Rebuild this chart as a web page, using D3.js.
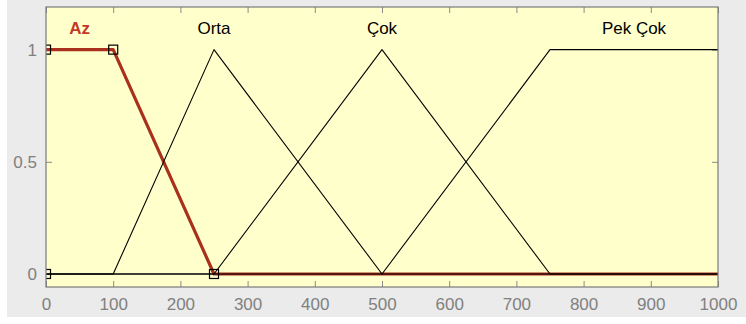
<!DOCTYPE html>
<html>
<head>
<meta charset="utf-8">
<script src="https://cdn.jsdelivr.net/npm/d3@7"></script>
<style>
  html, body { margin: 0; padding: 0; background: #ffffff; }
  svg { display: block; }
</style>
</head>
<body>
<div id="chart"></div>
<script>
// membership functions on the input range 0..1000
const mfNames = ['Az', 'Orta', 'Çok', 'Pek Çok'];
const mfX = [
  [0, 100, 250, 1000],
  [0, 100, 250, 500, 1000],
  [0, 250, 500, 750, 1000],
  [0, 500, 750, 1000]
];
const mfY = [
  [1, 1, 0, 0],
  [0, 0, 1, 0, 0],
  [0, 0, 1, 0, 0],
  [0, 0, 1, 1]
];
// where each name is written (x of the peak / plateau centre)
const labelX = [50, 250, 500, 875];
const labelY = 1.1;
const selected = 0; // "Az" is highlighted
// vertex markers of the selected MF
const markerX = [0, 0, 100, 250];
const markerY = [0, 1, 1, 0];

const xTicks = [0, 100, 200, 300, 400, 500, 600, 700, 800, 900, 1000];
const yTicks = [0, 0.5, 1];

const width = 746, height = 324;
const plot = { left: 46, right: 718, top: 7, bottom: 287 };

const svg = d3.select('#chart').append('svg')
  .attr('width', width)
  .attr('height', height);

// figure background
svg.append('rect')
  .attr('x', 7).attr('y', 0)
  .attr('width', width - 7).attr('height', 317)
  .attr('fill', '#ebebeb');

const x = d3.scaleLinear().domain([0, 1000]).range([plot.left, plot.right]);
const y = d3.scaleLinear().domain([-0.058, 1.19]).range([plot.bottom, plot.top]);

svg.append('defs').append('clipPath').attr('id', 'clip')
  .append('rect')
  .attr('x', plot.left).attr('y', plot.top)
  .attr('width', plot.right - plot.left).attr('height', plot.bottom - plot.top);

svg.append('rect')
  .attr('x', plot.left).attr('y', plot.top)
  .attr('width', plot.right - plot.left).attr('height', plot.bottom - plot.top)
  .attr('fill', '#ffffcc');

// axes: ticks point inward, labels in gray
const tickColor = '#8a8a8a';
function styleAxis(g, showText) {
  g.select('.domain').remove();
  g.selectAll('.tick line').attr('stroke', tickColor);
  g.selectAll('.tick text')
    .attr('fill', '#808080')
    .style('font-family', 'Arial, "Liberation Sans", sans-serif')
    .style('font-size', '17px')
    .style('display', showText ? null : 'none');
}

svg.append('g')
  .attr('transform', `translate(0,${plot.bottom})`)
  .call(d3.axisBottom(x).tickValues(xTicks).tickSize(-6).tickPadding(11).tickFormat(d3.format('d')))
  .call(g => styleAxis(g, true));

svg.append('g')
  .attr('transform', `translate(0,${plot.top})`)
  .call(d3.axisTop(x).tickValues(xTicks).tickSize(-6).tickFormat(''))
  .call(g => styleAxis(g, false));

svg.append('g')
  .attr('transform', `translate(${plot.left},0)`)
  .call(d3.axisLeft(y).tickValues(yTicks).tickSize(-6).tickPadding(9).tickFormat(d => d))
  .call(g => styleAxis(g, true));

svg.append('g')
  .attr('transform', `translate(${plot.right},0)`)
  .call(d3.axisRight(y).tickValues(yTicks).tickSize(-6).tickFormat(''))
  .call(g => styleAxis(g, false));

const line = d3.line().x(d => x(d[0])).y(d => y(d[1]));
const area = svg.append('g').attr('clip-path', 'url(#clip)');

// selected MF first (thick red), others drawn on top in thin black
const order = [selected].concat(d3.range(mfNames.length).filter(i => i !== selected));
order.forEach(i => {
  const pts = mfX[i].map((v, k) => [v, mfY[i][k]]);
  area.append('path')
    .attr('d', line(pts))
    .attr('fill', 'none')
    .attr('stroke', i === selected ? '#a8301c' : '#000000')
    .attr('stroke-width', i === selected ? 3.2 : 1.1)
    .attr('stroke-linejoin', 'round');
});

area.selectAll('rect.marker')
  .data(markerX.map((v, k) => [v, markerY[k]]))
  .join('rect')
  .attr('class', 'marker')
  .attr('x', d => x(d[0]) - 4.5)
  .attr('y', d => y(d[1]) - 4.5)
  .attr('width', 9).attr('height', 9)
  .attr('fill', 'none')
  .attr('stroke', '#000')
  .attr('stroke-width', 1.2);

svg.selectAll('text.mf')
  .data(mfNames)
  .join('text')
  .attr('class', 'mf')
  .attr('x', (d, i) => x(labelX[i]))
  .attr('y', y(labelY) + 1)
  .attr('dy', '0.35em')
  .attr('text-anchor', 'middle')
  .attr('fill', (d, i) => i === selected ? '#c0392b' : '#000')
  .style('font-family', 'Arial, "Liberation Sans", sans-serif')
  .style('font-size', '17px')
  .style('font-weight', (d, i) => i === selected ? 'bold' : 'normal')
  .text(d => d);

// axes box
svg.append('rect')
  .attr('x', plot.left).attr('y', plot.top)
  .attr('width', plot.right - plot.left).attr('height', plot.bottom - plot.top)
  .attr('fill', 'none')
  .attr('stroke', '#7a7a7a')
  .attr('stroke-width', 1.2);
</script>
</body>
</html>
